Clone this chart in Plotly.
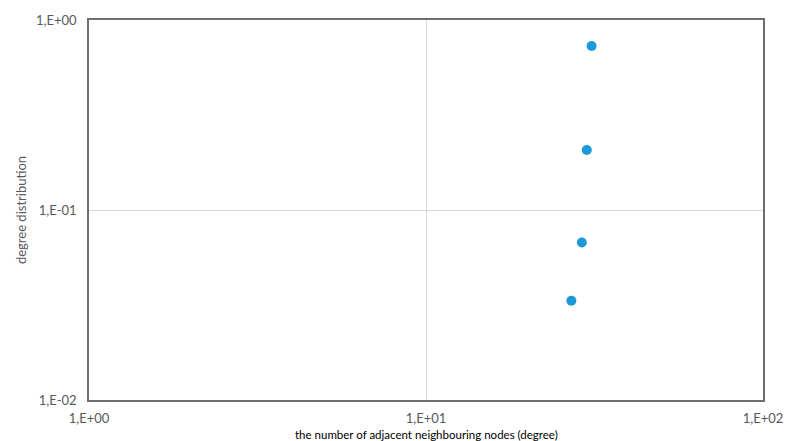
import plotly.graph_objects as go

# Degree distribution of the network (log-log)
degree = [27, 29, 30, 31]
probability = [0.0333, 0.0675, 0.207, 0.73]

x_tick_values = [1, 10, 100]
x_tick_labels = ["1,E+00", "1,E+01", "1,E+02"]
y_tick_values = [0.01, 0.1, 1]
y_tick_labels = ["1,E-02", "1,E-01", "1,E+00"]

FONT = "Lato, 'Open Sans', sans-serif"

fig = go.Figure(
    go.Scatter(
        x=degree,
        y=probability,
        mode="markers",
        marker=dict(size=10, color="#1B9AD7"),
        showlegend=False,
    )
)

fig.update_layout(
    width=795,
    height=441,
    margin=dict(l=89, r=32, t=17, b=41),
    paper_bgcolor="white",
    plot_bgcolor="white",
    font=dict(family=FONT, color="#595959", size=13),
    annotations=[
        dict(
            text="the number of adjacent neighbouring nodes (degree)",
            xref="paper", yref="paper",
            x=0.5, y=-0.092,
            xanchor="center", yanchor="middle",
            showarrow=False,
            font=dict(family=FONT, size=11.5, color="#000000"),
        )
    ],
)

fig.update_xaxes(
    type="log",
    range=[0, 2],
    tickvals=x_tick_values,
    ticktext=x_tick_labels,
    showgrid=True,
    gridcolor="#D9D9D9",
    gridwidth=1,
    showline=True,
    linecolor="#6E6E6E",
    linewidth=1.5,
    mirror=True,
    ticks="",
    ticklabelstandoff=6,
    zeroline=False,
)

fig.update_yaxes(
    type="log",
    range=[-2, 0],
    tickvals=y_tick_values,
    ticktext=y_tick_labels,
    showgrid=True,
    gridcolor="#D9D9D9",
    gridwidth=1,
    showline=True,
    linecolor="#6E6E6E",
    linewidth=1.5,
    mirror=True,
    ticks="",
    ticklabelstandoff=8,
    zeroline=False,
    title=dict(text="degree distribution", font=dict(size=13, color="#595959"), standoff=6),
)

fig.write_html("out.html")
